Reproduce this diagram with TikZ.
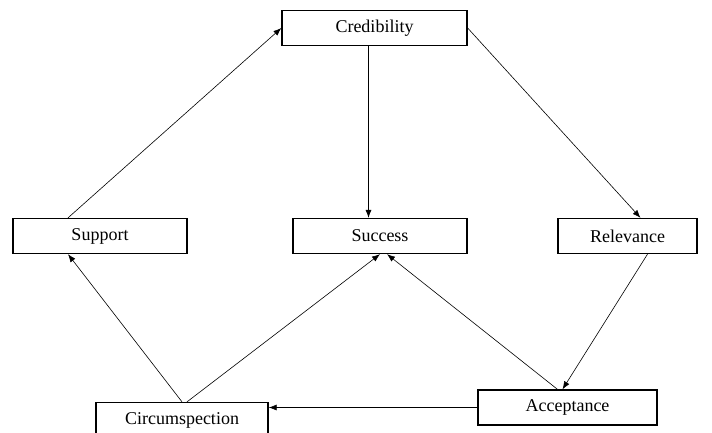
\documentclass[tikz,border=0pt]{standalone}
\usepackage{fontspec}
\setmainfont{Liberation Serif}
\usetikzlibrary{arrows.meta, positioning, calc}

\begin{document}
\begin{tikzpicture}[
    x=1pt, y=-1pt,
    every node/.style={rectangle, draw, line width=1.3pt, minimum height=35pt, inner sep=0pt, font=\fontsize{18}{20}\selectfont},
    link/.style={draw, line width=0.6pt, -{Latex[length=8pt,width=6pt]}}
]
\useasboundingbox (0,0) rectangle (712,432);

\node[minimum width=185pt] (cred) at (374.5,28) {Credibility};
\node[minimum width=174pt] (supp) at (100,236) {Support};
\node[minimum width=174pt] (succ) at (380,236) {Success};
\node[minimum width=139pt] (rel) at (627.5,236) {Relevance};
\node[minimum width=172pt] (circ) at (182,420) {Circumspection};
\node[minimum width=179pt] (acc) at (567.5,407.5) {Acceptance};

\draw[link] ([xshift=-32pt]supp.north) -- (cred.west);
\draw[link] ([xshift=-6pt]cred.south) -- ([xshift=-6pt]cred.south |- succ.north);
\draw[link] (cred.east) -- ([xshift=13pt]rel.north);
\draw[link] ([xshift=20pt]rel.south) -- ([xshift=-5pt]acc.north);
\draw[link] ([xshift=-10pt]acc.north) -- ([xshift=7pt]succ.south);
\draw[link] ([xshift=5pt]circ.north) -- (succ.south);
\draw[link] (circ.north) -- ([xshift=-32pt]supp.south);
\draw[link] (acc.west) -- (acc.west -| circ.east);

\end{tikzpicture}
\end{document}
